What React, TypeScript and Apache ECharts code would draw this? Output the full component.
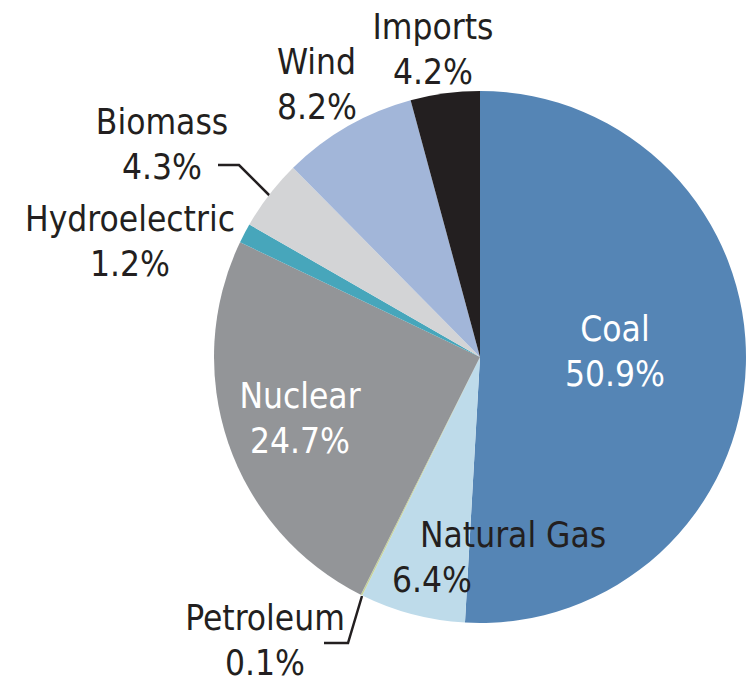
import React, { useEffect, useRef } from "react";
import * as echarts from "echarts";

const categories = ["Coal", "Natural Gas", "Petroleum", "Nuclear", "Hydroelectric", "Biomass", "Wind", "Imports"];
const shares = [50.9, 6.4, 0.1, 24.7, 1.2, 4.3, 8.2, 4.2];
const colors = ["#5585b5", "#bedbea", "#c6d39c", "#939598", "#47a6bb", "#d3d4d6", "#a2b6d9", "#231f20"];

const FONT = "'Liberation Sans Narrow', 'DejaVu Sans Condensed', 'Arial Narrow', sans-serif";
const FS = 35;
const LH = 45;

// label placements (style only)
const labelPos: Record<string, any> = {
  "Coal": { x: 615, y: 351, align: "center" },
  "Natural Gas": { x: 392, y: 557, align: "left" },
  "Petroleum": { x: 265, y: 640, align: "center", line: [[362, 596], [348, 643], [324, 643]] },
  "Nuclear": { x: 300, y: 418, align: "center" },
  "Hydroelectric": { x: 130, y: 241, align: "center" },
  "Biomass": { x: 162, y: 144, align: "center", line: [[270, 196], [239, 165], [218, 165]] },
  "Wind": { x: 277, y: 84, align: "left" },
  "Imports": { x: 433, y: 49, align: "center" },
};

export default function App() {
  const ref = useRef<HTMLDivElement>(null);
  useEffect(() => {
    document.body.style.margin = "0";
    const chart = echarts.init(ref.current!, null, { renderer: "svg" });
    const data = categories.map((name, i) => {
      const inside = name === "Coal" || name === "Nuclear";
      const hasLine = !!labelPos[name].line;
      return {
        name,
        value: shares[i],
        itemStyle: { color: colors[i] },
        label: { color: inside ? "#ffffff" : "#231f20" },
        labelLine: { show: hasLine },
      };
    });
    chart.setOption({
      animation: false,
      backgroundColor: "#ffffff",
      series: [
        {
          type: "pie",
          center: [480, 357],
          radius: [0, 266],
          startAngle: 90,
          clockwise: true,
          avoidLabelOverlap: false,
          itemStyle: { borderWidth: 0 },
          label: {
            show: true,
            position: "outside",
            fontFamily: FONT,
            fontSize: FS,
            lineHeight: LH,
            color: "#231f20",
            formatter: (p: any) => {
              const v = Number(p.value).toFixed(1) + "%";
              if (p.name === "Natural Gas") return `{ng|${p.name}}\n{v|${v}}`;
              return `${p.name}\n${v}`;
            },
            rich: {
              ng: { fontFamily: FONT, fontSize: FS, lineHeight: LH, color: "#231f20", padding: [0, 0, 0, 28] },
              v: { fontFamily: FONT, fontSize: FS, lineHeight: LH, color: "#231f20" },
            },
          },
          labelLine: {
            show: false,
            lineStyle: { color: "#231f20", width: 2.5 },
          },
          labelLayout: (params: any) => {
            const name = categories[params.dataIndex];
            const pos = labelPos[name];
            const out: any = { x: pos.x, y: pos.y, align: pos.align, verticalAlign: "middle" };
            if (pos.line) out.labelLinePoints = pos.line;
            return out;
          },
          data,
        },
      ],
    });
    return () => chart.dispose();
  }, []);
  return <div ref={ref} style={{ width: 748, height: 684 }} />;
}
